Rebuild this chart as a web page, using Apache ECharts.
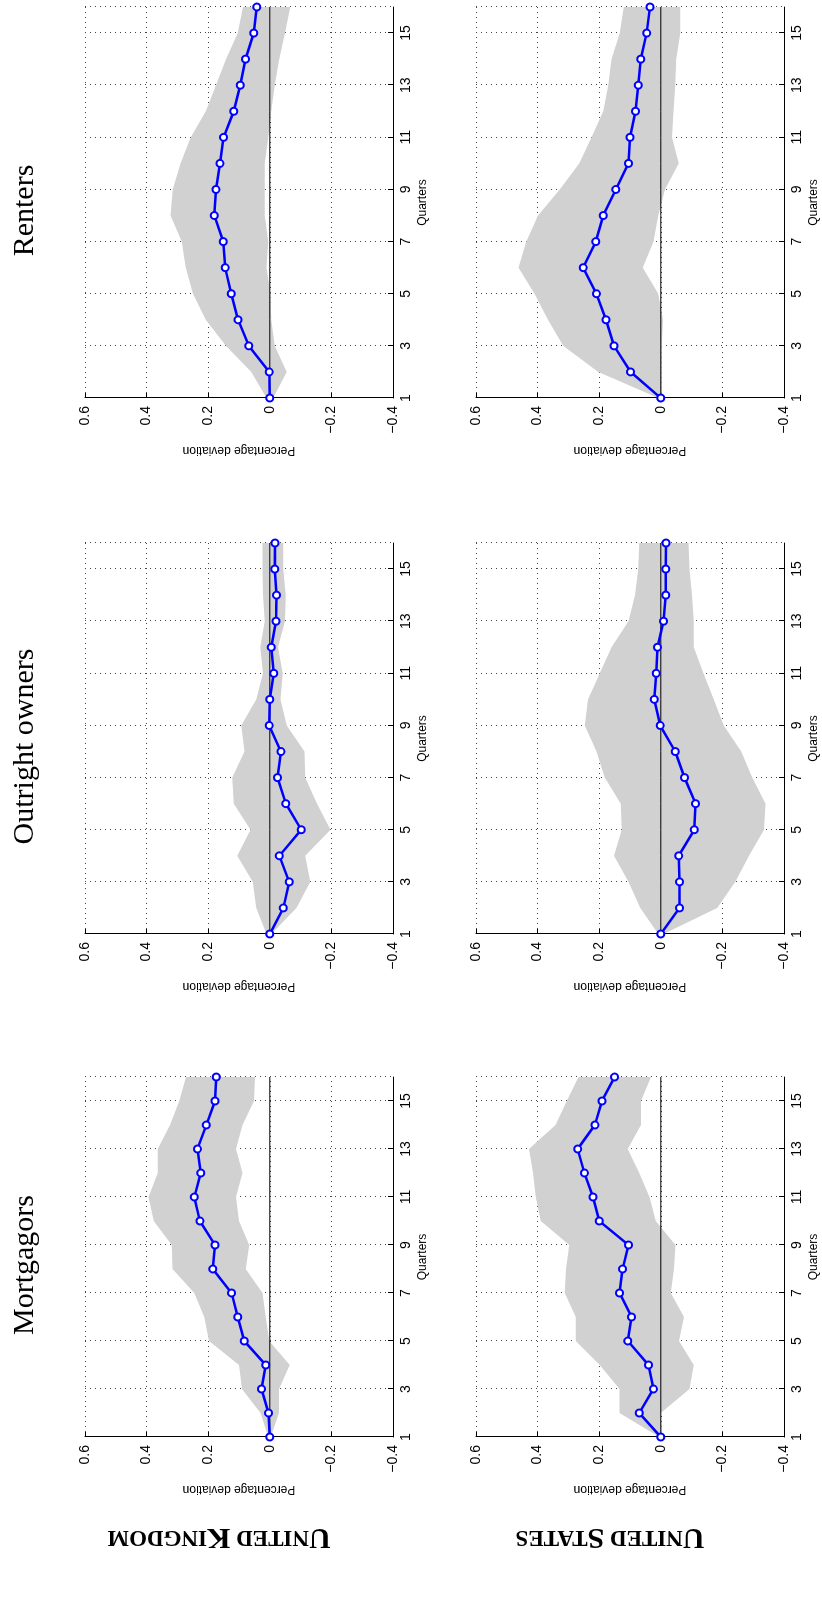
<!DOCTYPE html>
<html><head><meta charset="utf-8">
<script src="https://cdn.jsdelivr.net/npm/echarts@6/dist/echarts.min.js"></script>
<style>
html,body{margin:0;padding:0;background:#fff;overflow:hidden;}
#wrap{position:absolute;left:0;top:1606px;width:1606px;height:822px;transform-origin:0 0;transform:rotate(-90deg);}
#main{width:1606px;height:822px;}
</style></head>
<body>
<div id="wrap"><div id="main"></div></div>
<script>
var quarters = [1,2,3,4,5,6,7,8,9,10,11,12,13,14,15,16];
var groups = ['Mortgagors', 'Outright owners', 'Renters'];
var countries = ['UNITED KINGDOM', 'UNITED STATES'];

// UK
var ukMortMid = [0,0.004,0.027,0.013,0.083,0.104,0.124,0.185,0.178,0.227,0.245,0.224,0.235,0.206,0.178,0.174];
var ukMortHi  = [0.005,0.03,0.09,0.1,0.197,0.213,0.245,0.316,0.318,0.377,0.394,0.364,0.364,0.324,0.294,0.272];
var ukMortLo  = [-0.003,-0.03,-0.03,-0.065,0.002,0.013,0.024,0.078,0.067,0.1,0.11,0.089,0.11,0.089,0.051,0.048];
var ukOutMid  = [0,-0.044,-0.063,-0.031,-0.102,-0.052,-0.025,-0.036,0.002,0,-0.013,-0.005,-0.02,-0.022,-0.016,-0.017];
var ukOutHi   = [0.011,0.044,0.055,0.106,0.063,0.117,0.122,0.082,0.093,0.044,0.022,0.031,0.016,0.022,0.024,0.024];
var ukOutLo   = [-0.005,-0.087,-0.131,-0.115,-0.197,-0.153,-0.115,-0.113,-0.055,-0.035,-0.042,-0.027,-0.049,-0.052,-0.044,-0.044];
var ukRentMid = [0,0.002,0.068,0.103,0.125,0.145,0.151,0.18,0.175,0.162,0.15,0.117,0.096,0.079,0.052,0.042];
var ukRentHi  = [0.011,0.06,0.142,0.208,0.249,0.273,0.286,0.322,0.315,0.29,0.257,0.208,0.175,0.142,0.104,0.087];
var ukRentLo  = [-0.011,-0.055,-0.016,-0.005,-0.002,0.011,0.005,0.016,0.016,0.016,0.005,-0.005,-0.016,-0.031,-0.049,-0.066];
// US
var usMortMid = [0,0.07,0.024,0.04,0.107,0.095,0.134,0.124,0.105,0.2,0.22,0.248,0.27,0.214,0.191,0.15];
var usMortHi  = [0.005,0.134,0.134,0.198,0.276,0.276,0.312,0.308,0.297,0.39,0.406,0.415,0.428,0.342,0.305,0.267];
var usMortLo  = [-0.005,0,-0.093,-0.107,-0.059,-0.075,-0.032,-0.043,-0.048,0.016,0.037,0.07,0.107,0.064,0.064,0.032];
var usOutMid  = [0,-0.061,-0.061,-0.058,-0.109,-0.113,-0.077,-0.047,0.002,0.021,0.015,0.011,-0.009,-0.016,-0.016,-0.017];
var usOutHi   = [0.008,0.067,0.105,0.152,0.127,0.13,0.182,0.209,0.247,0.236,0.198,0.16,0.105,0.084,0.073,0.07];
var usOutLo   = [-0.009,-0.183,-0.242,-0.286,-0.335,-0.34,-0.297,-0.261,-0.204,-0.172,-0.139,-0.107,-0.107,-0.101,-0.093,-0.09];
var usRentMid = [0,0.098,0.152,0.178,0.209,0.252,0.211,0.187,0.146,0.105,0.1,0.082,0.073,0.065,0.046,0.035];
var usRentHi  = [0.008,0.203,0.317,0.366,0.41,0.462,0.437,0.399,0.328,0.265,0.225,0.187,0.171,0.16,0.133,0.12];
var usRentLo  = [-0.003,-0.003,-0.003,-0.007,0.008,0.059,0.024,0.008,-0.014,-0.058,-0.036,-0.041,-0.047,-0.05,-0.063,-0.063];

var panels = [
  [[ukMortMid, ukMortHi, ukMortLo], [ukOutMid, ukOutHi, ukOutLo], [ukRentMid, ukRentHi, ukRentLo]],
  [[usMortMid, usMortHi, usMortLo], [usOutMid, usOutHi, usOutLo], [usRentMid, usRentHi, usRentLo]]
];

var colLeft = [169, 672, 1208];
var colWidth = [360, 391, 391];
var rowTop = [85, 476];
var rowHeight = 308;

var chart = echarts.init(document.getElementById('main'));
var grids = [], xAxes = [], yAxes = [], series = [], graphics = [];

function pairs(vals) { return quarters.map(function (q, i) { return [q, vals[i]]; }); }

function bandSeries(k, hi, lo) {
  return {
    type: 'custom', xAxisIndex: k, yAxisIndex: k, silent: true, z: 1,
    data: [[quarters[0], 0]],
    renderItem: function (params, api) {
      var pts = [];
      quarters.forEach(function (q, i) { pts.push(api.coord([q, hi[i]])); });
      for (var i = quarters.length - 1; i >= 0; i--) pts.push(api.coord([quarters[i], lo[i]]));
      return { type: 'polygon', shape: { points: pts }, style: { fill: '#d1d1d1' } };
    }
  };
}

panels.forEach(function (row, r) {
  row.forEach(function (p, c) {
    var k = grids.length;
    grids.push({ left: colLeft[c], top: rowTop[r], width: colWidth[c], height: rowHeight });
    xAxes.push({
      gridIndex: k, type: 'value', min: 1, max: 16, interval: 2,
      name: 'Quarters', nameLocation: 'middle', nameGap: 24,
      nameTextStyle: { fontFamily: 'Liberation Sans', fontSize: 12, color: '#000' },
      axisLine: { show: true, onZero: false, lineStyle: { color: '#000' } },
      axisTick: { inside: true, length: 5, lineStyle: { color: '#000' } },
      axisLabel: { showMaxLabel: false, fontFamily: 'Liberation Sans', fontSize: 14, color: '#000', margin: 6 },
      splitLine: { show: true, lineStyle: { type: [1, 4], color: '#444' } }
    });
    yAxes.push({
      gridIndex: k, type: 'value', min: -0.4, max: 0.6, interval: 0.2,
      name: 'Percentage deviation', nameLocation: 'middle', nameGap: 46,
      nameTextStyle: { fontFamily: 'Liberation Sans', fontSize: 12, color: '#000' },
      axisLine: { show: true, lineStyle: { color: '#000' } },
      axisTick: { show: true, inside: true, length: 5, lineStyle: { color: '#000' } },
      axisLabel: {
        fontFamily: 'Liberation Sans', fontSize: 14, color: '#000', margin: 8,
        formatter: function (v) { var s = Math.abs(v) < 1e-9 ? '0' : String(+v.toFixed(1)); return s.replace('-', '\u2212'); }
      },
      splitLine: { show: true, lineStyle: { type: [1, 4], color: '#444' } }
    });
    series.push(bandSeries(k, p[1], p[2]));
    series.push({
      type: 'line', xAxisIndex: k, yAxisIndex: k, data: pairs(quarters.map(function () { return 0; })),
      symbol: 'none', lineStyle: { color: '#000', width: 1 }, silent: true, z: 2
    });
    series.push({
      type: 'line', xAxisIndex: k, yAxisIndex: k, data: pairs(p[0]),
      symbol: 'circle', symbolSize: 7,
      itemStyle: { color: '#fff', borderColor: '#0000ff', borderWidth: 2 },
      lineStyle: { color: '#0000ff', width: 2.5 }, z: 3
    });
  });
});

groups.forEach(function (g, c) {
  graphics.push({
    type: 'text', x: colLeft[c] + colWidth[c] / 2 - 8, y: 25,
    style: { text: g, fontFamily: 'Liberation Serif', fontSize: 30, fill: '#000', align: 'center', verticalAlign: 'middle' }
  });
});

countries.forEach(function (name, r) {
  var rich = name.split(' ').map(function (w) { return '{a|' + w[0] + '}{b|' + w.slice(1) + '}'; }).join('{b| }');
  graphics.push({
    type: 'text', x: 69, y: rowTop[r] + rowHeight / 2 - 20, rotation: Math.PI / 2,
    style: {
      text: rich, align: 'center', verticalAlign: 'middle',
      rich: {
        a: { fontFamily: 'Liberation Serif', fontWeight: 'bold', fontSize: 30, fill: '#000' },
        b: { fontFamily: 'Liberation Serif', fontWeight: 'bold', fontSize: 23, fill: '#000' }
      }
    }
  });
});

chart.setOption({
  animation: false,
  grid: grids, xAxis: xAxes, yAxis: yAxes, series: series, graphic: graphics
});
</script>
</body></html>
